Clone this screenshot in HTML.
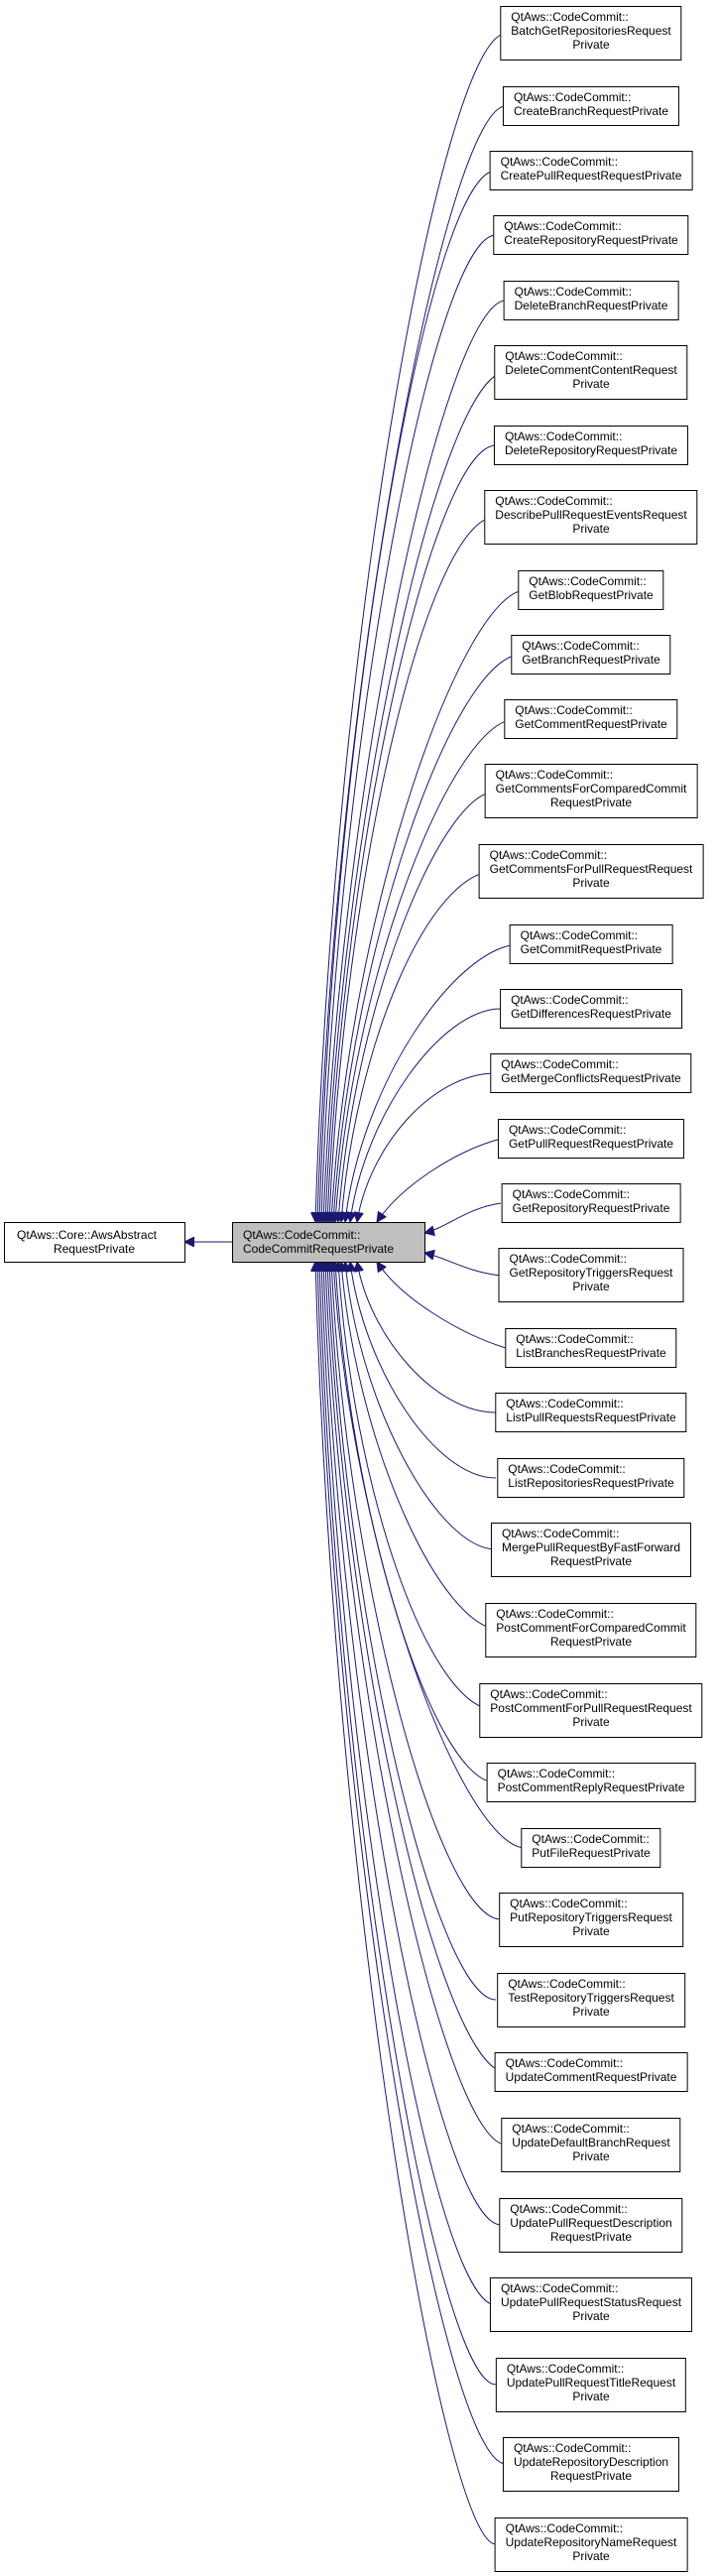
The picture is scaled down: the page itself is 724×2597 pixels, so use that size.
<!DOCTYPE html>
<html><head><meta charset="utf-8"><style>
html,body{margin:0;padding:0;background:#fff;}
body{position:relative;width:724px;height:2597px;overflow:hidden;}
svg{display:block;position:absolute;left:0;top:0;}
text{font-family:"Liberation Sans",Arial,sans-serif;font-size:12px;fill:#000;}
.b{fill:#fff;stroke:#000;stroke-width:1;}
.e{fill:none;stroke:#191970;stroke-width:1;marker-end:url(#ah);}
.n{position:absolute;left:596px;transform:translateX(-50%);background:#fff;border:1px solid #000;box-sizing:border-box;padding:3px 10px 0 10px;font-family:"Liberation Sans",Arial,sans-serif;font-size:12px;line-height:14px;white-space:nowrap;height:40px;}
.n.t{height:55px;}
.n .c{text-align:center;}
</style></head><body>
<svg width="724" height="2597" viewBox="0 0 724 2597" xmlns="http://www.w3.org/2000/svg">
<defs><marker id="ah" markerUnits="userSpaceOnUse" markerWidth="12" markerHeight="10" refX="10" refY="5" orient="auto"><path d="M0,0 L10,5 L0,10 Z" fill="#191970" stroke="#191970"/></marker></defs>

<path class="e" d="M510,34 C448,34 336,633 318,1232"/>
<path class="e" d="M510,107 C452,107 338,670 320,1232"/>
<path class="e" d="M500,172 C435,172 338,702 322,1232"/>
<path class="e" d="M500,237 C439,237 340,735 324,1232"/>
<path class="e" d="M510,303 C452,303 344,768 326,1232"/>
<path class="e" d="M510,375 C448,375 345,804 328,1232"/>
<path class="e" d="M500,449 C439,449 346,841 330,1232"/>
<path class="e" d="M500,521 C432,521 347,877 332,1232"/>
<path class="e" d="M530,595 C468,595 352,914 334,1232"/>
<path class="e" d="M525,660 C461,660 354,946 336,1232"/>
<path class="e" d="M520,725 C458,725 355,979 338,1232"/>
<path class="e" d="M500,798 C445,798 356,1015 341,1232"/>
<path class="e" d="M500,878 C432,878 358,1055 344,1232"/>
<path class="e" d="M525,952 C461,952 364,1092 348,1232"/>
<path class="e" d="M505,1017 C445,1017 367,1125 353,1232"/>
<path class="e" d="M500,1082 C435,1082 372,1157 360,1232"/>
<path class="e" d="M505,1148 C460,1160 405,1195 380,1232"/>
<path class="e" d="M505,1213 C470,1218 450,1238 428,1243"/>
<path class="e" d="M505,1286 C470,1282 450,1268 428,1263"/>
<path class="e" d="M510,1359 C465,1345 405,1310 380,1272"/>
<path class="e" d="M500,1424 C439,1424 373,1348 360,1272"/>
<path class="e" d="M500,1490 C439,1490 367,1381 353,1272"/>
<path class="e" d="M500,1562 C442,1562 362,1417 348,1272"/>
<path class="e" d="M505,1643 C445,1643 359,1457 344,1272"/>
<path class="e" d="M500,1724 C432,1724 355,1498 341,1272"/>
<path class="e" d="M500,1797 C439,1797 353,1534 338,1272"/>
<path class="e" d="M530,1863 C468,1863 354,1567 336,1272"/>
<path class="e" d="M505,1935 C445,1935 350,1603 334,1272"/>
<path class="e" d="M500,2016 C442,2016 348,1644 332,1272"/>
<path class="e" d="M510,2089 C448,2089 347,1680 330,1272"/>
<path class="e" d="M510,2162 C452,2162 345,1717 328,1272"/>
<path class="e" d="M505,2243 C445,2243 343,1757 326,1272"/>
<path class="e" d="M500,2324 C439,2324 341,1798 324,1272"/>
<path class="e" d="M500,2404 C442,2404 339,1838 322,1272"/>
<path class="e" d="M510,2484 C449,2484 338,1878 320,1272"/>
<path class="e" d="M500,2565 C448,2565 336,1918 318,1272"/>
<path class="e" d="M234,1252 L186,1252"/>

<rect class="b" x="4.5" y="1232.5" width="182" height="40"/>
<text x="17" y="1249">QtAws::Core::AwsAbstract</text>
<text x="95" y="1263" text-anchor="middle">RequestPrivate</text>
<rect x="234.5" y="1232.5" width="194" height="40" fill="#bfbfbf" stroke="#000"/>
<text x="245" y="1249">QtAws::CodeCommit::</text>
<text x="245" y="1263">CodeCommitRequestPrivate</text>
</svg>

<div class="n t" style="top:6px">QtAws::CodeCommit::<br>BatchGetRepositoriesRequest<div class="c">Private</div></div>
<div class="n" style="top:87px">QtAws::CodeCommit::<br>CreateBranchRequestPrivate</div>
<div class="n" style="top:152px">QtAws::CodeCommit::<br>CreatePullRequestRequestPrivate</div>
<div class="n" style="top:217px">QtAws::CodeCommit::<br>CreateRepositoryRequestPrivate</div>
<div class="n" style="top:283px">QtAws::CodeCommit::<br>DeleteBranchRequestPrivate</div>
<div class="n t" style="top:348px">QtAws::CodeCommit::<br>DeleteCommentContentRequest<div class="c">Private</div></div>
<div class="n" style="top:429px">QtAws::CodeCommit::<br>DeleteRepositoryRequestPrivate</div>
<div class="n t" style="top:494px">QtAws::CodeCommit::<br>DescribePullRequestEventsRequest<div class="c">Private</div></div>
<div class="n" style="top:575px">QtAws::CodeCommit::<br>GetBlobRequestPrivate</div>
<div class="n" style="top:640px">QtAws::CodeCommit::<br>GetBranchRequestPrivate</div>
<div class="n" style="top:705px">QtAws::CodeCommit::<br>GetCommentRequestPrivate</div>
<div class="n t" style="top:770px">QtAws::CodeCommit::<br>GetCommentsForComparedCommit<div class="c">RequestPrivate</div></div>
<div class="n t" style="top:851px">QtAws::CodeCommit::<br>GetCommentsForPullRequestRequest<div class="c">Private</div></div>
<div class="n" style="top:932px">QtAws::CodeCommit::<br>GetCommitRequestPrivate</div>
<div class="n" style="top:997px">QtAws::CodeCommit::<br>GetDifferencesRequestPrivate</div>
<div class="n" style="top:1062px">QtAws::CodeCommit::<br>GetMergeConflictsRequestPrivate</div>
<div class="n" style="top:1128px">QtAws::CodeCommit::<br>GetPullRequestRequestPrivate</div>
<div class="n" style="top:1193px">QtAws::CodeCommit::<br>GetRepositoryRequestPrivate</div>
<div class="n t" style="top:1258px">QtAws::CodeCommit::<br>GetRepositoryTriggersRequest<div class="c">Private</div></div>
<div class="n" style="top:1339px">QtAws::CodeCommit::<br>ListBranchesRequestPrivate</div>
<div class="n" style="top:1404px">QtAws::CodeCommit::<br>ListPullRequestsRequestPrivate</div>
<div class="n" style="top:1470px">QtAws::CodeCommit::<br>ListRepositoriesRequestPrivate</div>
<div class="n t" style="top:1535px">QtAws::CodeCommit::<br>MergePullRequestByFastForward<div class="c">RequestPrivate</div></div>
<div class="n t" style="top:1616px">QtAws::CodeCommit::<br>PostCommentForComparedCommit<div class="c">RequestPrivate</div></div>
<div class="n t" style="top:1697px">QtAws::CodeCommit::<br>PostCommentForPullRequestRequest<div class="c">Private</div></div>
<div class="n" style="top:1777px">QtAws::CodeCommit::<br>PostCommentReplyRequestPrivate</div>
<div class="n" style="top:1843px">QtAws::CodeCommit::<br>PutFileRequestPrivate</div>
<div class="n t" style="top:1908px">QtAws::CodeCommit::<br>PutRepositoryTriggersRequest<div class="c">Private</div></div>
<div class="n t" style="top:1989px">QtAws::CodeCommit::<br>TestRepositoryTriggersRequest<div class="c">Private</div></div>
<div class="n" style="top:2069px">QtAws::CodeCommit::<br>UpdateCommentRequestPrivate</div>
<div class="n t" style="top:2135px">QtAws::CodeCommit::<br>UpdateDefaultBranchRequest<div class="c">Private</div></div>
<div class="n t" style="top:2216px">QtAws::CodeCommit::<br>UpdatePullRequestDescription<div class="c">RequestPrivate</div></div>
<div class="n t" style="top:2296px">QtAws::CodeCommit::<br>UpdatePullRequestStatusRequest<div class="c">Private</div></div>
<div class="n t" style="top:2377px">QtAws::CodeCommit::<br>UpdatePullRequestTitleRequest<div class="c">Private</div></div>
<div class="n t" style="top:2457px">QtAws::CodeCommit::<br>UpdateRepositoryDescription<div class="c">RequestPrivate</div></div>
<div class="n t" style="top:2538px">QtAws::CodeCommit::<br>UpdateRepositoryNameRequest<div class="c">Private</div></div>
</body></html>
